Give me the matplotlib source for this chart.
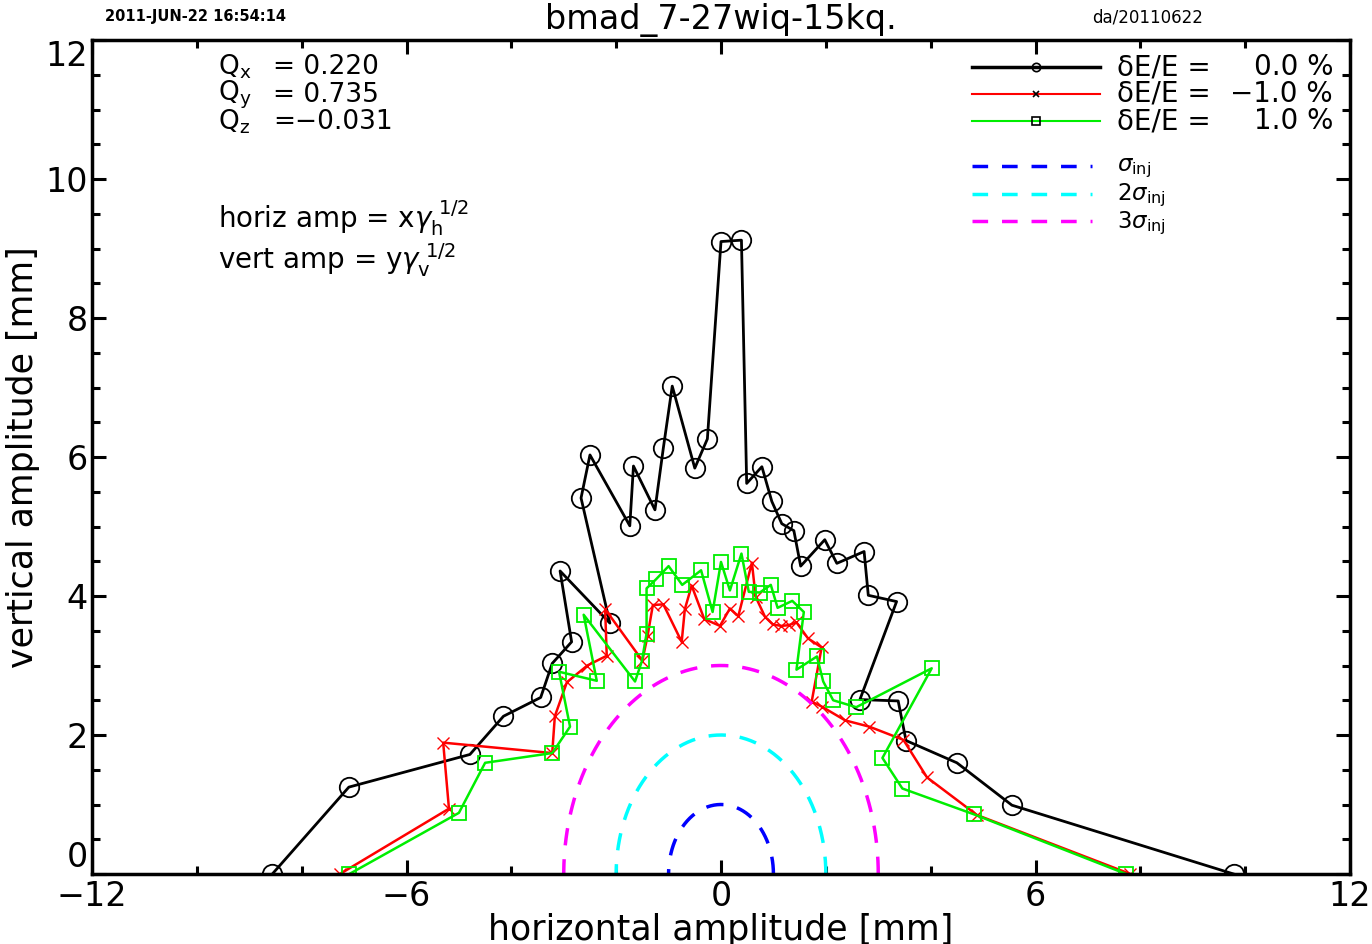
import numpy as np
import matplotlib
matplotlib.use("Agg")
import matplotlib.pyplot as plt
from matplotlib.lines import Line2D

# ---------------- data ----------------
bx = [-8.56, -7.10, -4.79, -4.15, -3.44, -3.22, -2.85, -3.07, -2.12, -2.67, -2.50,
      -1.74, -1.67, -1.26, -1.10, -0.93, -0.50, -0.26, 0.00, 0.39, 0.49, 0.78,
      0.97, 1.16, 1.39, 1.52, 1.98, 2.21, 2.73, 2.81, 3.35, 2.65, 3.38, 3.53,
      4.50, 5.55, 9.78]
by = [0.00, 1.25, 1.72, 2.27, 2.54, 3.03, 3.34, 4.36, 3.61, 5.41, 6.03,
      5.01, 5.87, 5.24, 6.13, 7.02, 5.84, 6.26, 9.10, 9.12, 5.62, 5.86,
      5.36, 5.04, 4.94, 4.43, 4.81, 4.47, 4.64, 4.01, 3.92, 2.51, 2.49, 1.92,
      1.60, 0.99, 0.00]

rx = [-7.27, -5.19, -5.30, -3.22, -3.17, -2.94, -2.55, -2.18, -2.21, -1.50, -1.40,
      -1.30, -1.10, -0.75, -0.69, -0.56, -0.32, -0.02, 0.17, 0.33, 0.59, 0.66,
      0.84, 0.99, 1.15, 1.29, 1.44, 1.66, 1.92, 1.73, 1.92, 2.37, 2.83, 3.48,
      3.93, 4.88, 7.81]
ry = [0.00, 0.94, 1.89, 1.74, 2.27, 2.76, 3.00, 3.14, 3.81, 3.07, 3.43,
      3.87, 3.88, 3.34, 3.81, 4.15, 3.67, 3.57, 3.82, 3.71, 4.48, 3.99,
      3.70, 3.59, 3.57, 3.58, 3.62, 3.39, 3.26, 2.48, 2.41, 2.21, 2.12, 1.93,
      1.39, 0.85, 0.00]

gx = [-7.09, -5.00, -4.50, -3.22, -2.88, -3.09, -2.37, -2.62, -1.64, -1.51, -1.42,
      -1.42, -1.24, -1.00, -0.74, -0.38, -0.16, 0.00, 0.17, 0.39, 0.53, 0.74,
      0.95, 1.08, 1.36, 1.58, 1.44, 1.83, 1.95, 2.14, 2.58, 4.02, 3.08, 3.46,
      4.82, 7.73]
gy = [0.00, 0.88, 1.60, 1.74, 2.12, 2.91, 2.78, 3.73, 2.77, 3.06, 3.46,
      4.11, 4.24, 4.43, 4.16, 4.37, 3.77, 4.49, 4.08, 4.61, 4.06, 4.05,
      4.16, 3.83, 3.93, 3.77, 2.94, 3.13, 2.77, 2.50, 2.40, 2.96, 1.67, 1.23,
      0.86, 0.00]

sigma_mult = [1, 2, 3]
sigma_colors = ["#0000ff", "#00ffff", "#ff00ff"]
sigma_labels = [r"$\sigma_{\rm inj}$", r"2$\sigma_{\rm inj}$", r"3$\sigma_{\rm inj}$"]

series_labels = ["0.0 %", "\u22121.0 %", "1.0 %"]
tune_names = [r"Q$_{\rm x}$", r"Q$_{\rm y}$", r"Q$_{\rm z}$"]
tune_values = ["= 0.220", "= 0.735", "=\u22120.031"]

# ---------------- figure ----------------
plt.rcParams['font.family'] = ['DejaVu Sans']
plt.rcParams['mathtext.fontset'] = 'dejavusans'
fig = plt.figure(figsize=(13.72, 9.44), dpi=100)
ax = fig.add_axes([92/1372, 1-874/944, (1350-92)/1372, (874-40)/944])

ax.plot(bx, by, color='black', lw=2.0, marker='o', ms=14, mfc='none', mec='black', mew=1.3)
ax.plot(rx, ry, color='#ff0000', lw=1.8, marker='x', ms=9, mec='#ff0000', mew=1.0)
ax.plot(gx, gy, color='#00ee00', lw=1.8, marker='s', ms=10, mfc='none', mec='#00ee00', mew=1.3)

th = np.linspace(0, np.pi, 200)
for m, c in zip(sigma_mult, sigma_colors):
    ax.plot(m*np.cos(th), m*np.sin(th), color=c, lw=2.5, ls=(0, (5, 4)))

ax.set_xlim(-12, 12)
ax.set_ylim(0, 12)
ax.set_xticks([-12, -6, 0, 6, 12])
ax.set_xticks(np.arange(-12, 12.1, 2), minor=True)
ax.set_yticks(np.arange(0, 12.1, 2))
ax.set_yticks(np.arange(0, 12.1, 0.5), minor=True)
ax.tick_params(which='both', direction='in', top=True, right=True, width=2.2)
ax.tick_params(which='major', length=10, labelsize=24, pad=4)
ax.tick_params(which='minor', length=6)
ax.tick_params(axis='y', pad=3)
for s in ax.spines.values():
    s.set_linewidth(2.5)

fig.canvas.draw()
ylabs = ax.get_yticklabels()
ylabs[0].set_va('bottom')
ylabs[-1].set_va('top')

ax.set_xlabel("horizontal amplitude [mm]", fontsize=25, labelpad=0)
ax.set_ylabel("vertical amplitude [mm]", fontsize=25, labelpad=4)

fig.text(721/1372, 1-20/944, "bmad_7-27wiq-15kq.", fontsize=24, ha='center', va='center')
fig.text(105/1372, 1-17/944, "2011-JUN-22 16:54:14", fontsize=10.5, fontweight='bold', ha='left', va='center')
fig.text(1148/1372, 1-17/944, "da/20110622", fontsize=12, ha='center', va='center')

# tunes text
for i, (n, v) in enumerate(zip(tune_names, tune_values)):
    ypix = 67 + 27.5*i
    fig.text(218/1372, 1-ypix/944, n, fontsize=19, ha='left', va='center')
    fig.text(273/1372, 1-ypix/944, v, fontsize=19, ha='left', va='center')

fig.text(218/1372, 1-218/944, r"horiz amp = x$\gamma_{\rm h}^{\ 1/2}$", fontsize=20, ha='left', va='center')
fig.text(218/1372, 1-260/944, r"vert amp = y$\gamma_{\rm v}^{\ 1/2}$", fontsize=20, ha='left', va='center')

# legend (manual)
def fx(p):
    return (p - 92) / (1350 - 92)
def fy(p):
    return (874 - p) / (874 - 40)

leg_styles = [
    dict(color='black', lw=2.5, marker='o', ms=6, mfc='none', mec='black'),
    dict(color='#ff0000', lw=1.5, marker='x', ms=5, mec='black'),
    dict(color='#00ee00', lw=1.5, marker='s', ms=6, mfc='none', mec='black'),
]
for i, (st, lab) in enumerate(zip(leg_styles, series_labels)):
    ypix = 67 + 27*i
    ax.add_line(Line2D([fx(972), fx(1100)], [fy(ypix)]*2, transform=ax.transAxes,
                       color=st['color'], lw=st['lw']))
    ax.add_line(Line2D([fx(1036)], [fy(ypix)], transform=ax.transAxes, ls='none',
                       marker=st['marker'], ms=st['ms'], mfc=st.get('mfc', 'none'), mec=st['mec'], mew=1.2))
    ax.text(fx(1117), fy(ypix), "\u03b4E/E =", transform=ax.transAxes, fontsize=20, ha='left', va='center')
    ax.text(fx(1333), fy(ypix), lab, transform=ax.transAxes, fontsize=20, ha='right', va='center')

for i, (c, lab) in enumerate(zip(sigma_colors, sigma_labels)):
    ypix = 166 + 27.5*i
    ax.add_line(Line2D([fx(972), fx(1092)], [fy(ypix)]*2, transform=ax.transAxes, color=c, lw=2.5, ls=(0, (4.5, 4))))
    ax.text(fx(1117), fy(ypix+2), lab, transform=ax.transAxes, fontsize=16.5, ha='left', va='center')

fig.savefig("out.png", dpi=100)
